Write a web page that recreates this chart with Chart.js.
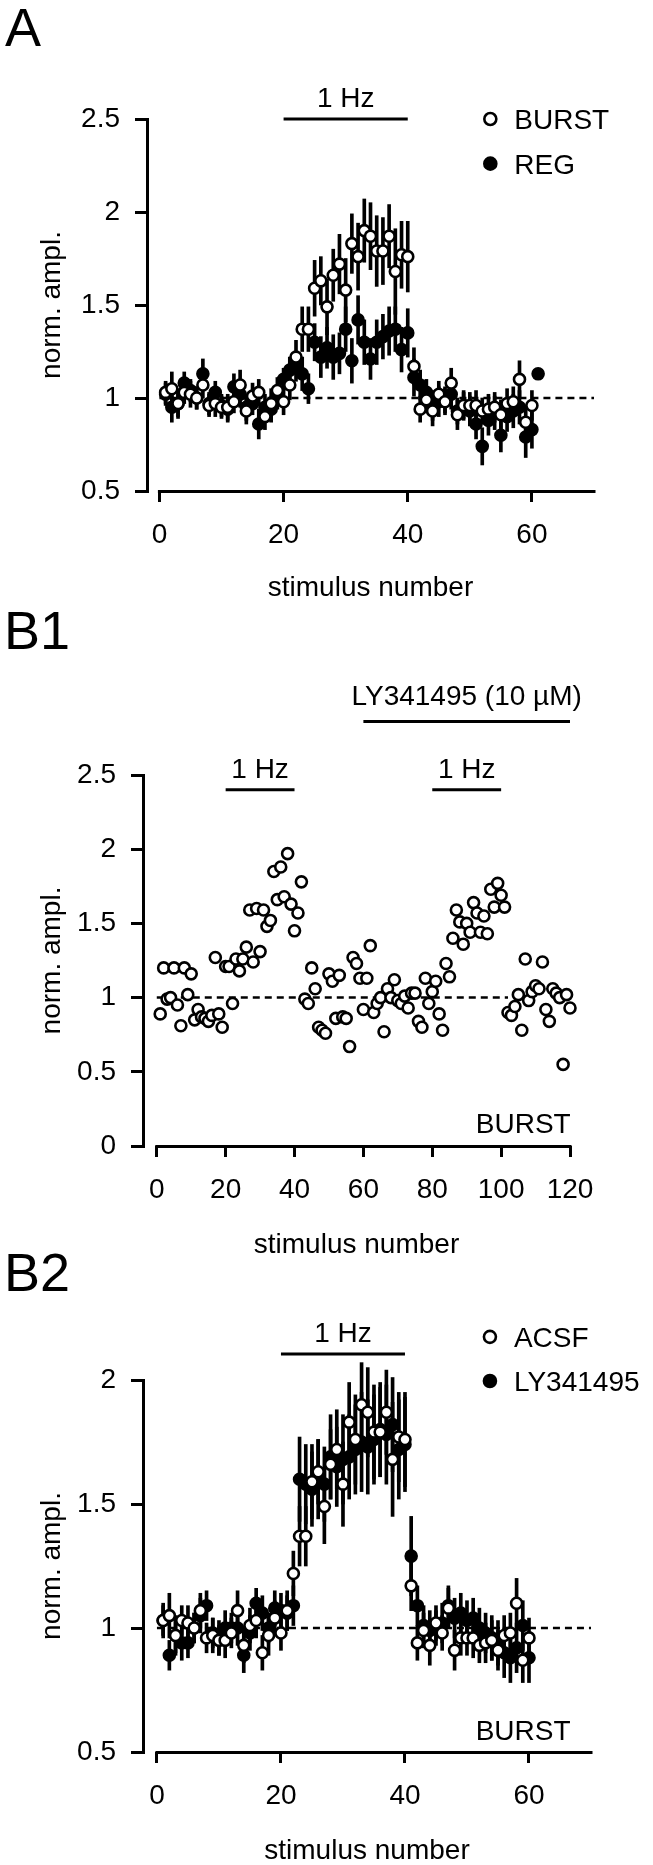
<!DOCTYPE html>
<html>
<head>
<meta charset="utf-8">
<title>norm. ampl.</title>
<script src="https://cdn.jsdelivr.net/npm/chart.js@4.4.1/dist/chart.umd.min.js"></script>
<style>
html, body { margin: 0; padding: 0; background: #fff; }
body { position: relative; width: 653px; height: 1865px; overflow: hidden; font-family: "Liberation Sans", Arial, sans-serif; }
canvas { position: absolute; left: 0; }
.tag { position: absolute; font-size: 54px; line-height: 1; color: #000; }
</style>
</head>
<body>
<div class="tag" style="left:5px; top:0px">A</div>
<div class="tag" style="left:4px; top:603px">B1</div>
<div class="tag" style="left:4px; top:1245px">B2</div>
<canvas id="cA" width="653" height="610" style="top:0px"></canvas>
<canvas id="cB1" width="653" height="665" style="top:600px"></canvas>
<canvas id="cB2" width="653" height="610" style="top:1260px"></canvas>
<script>
const FONT = '"Liberation Sans", Arial, sans-serif';
Chart.defaults.font.family = FONT;
Chart.defaults.font.size = 28;
Chart.defaults.color = '#000';

// ---- panel A : BURST vs REG (mean +- sem)
const stimA = [1,2,3,4,5,6,7,8,9,10,11,12,13,14,15,16,17,18,19,20,
  21,22,23,24,25,26,27,28,29,30,31,32,33,34,35,36,37,38,39,40,
  41,42,43,44,45,46,47,48,49,50,51,52,53,54,55,56,57,58,59,60];
const burst = [1.03,1.05,0.97,1.03,1.02,1.00,1.07,0.96,0.97,0.95,0.95,0.98,1.07,0.93,1.01,1.03,0.90,0.97,1.04,0.98,
  1.07,1.22,1.37,1.37,1.59,1.63,1.49,1.66,1.72,1.58,1.83,1.76,1.90,1.87,1.79,1.79,1.87,1.68,1.77,1.76,
  1.17,0.94,0.99,0.93,1.02,0.98,1.08,0.91,0.96,0.96,0.96,0.93,0.94,0.95,0.91,0.97,0.98,1.10,0.87,0.96];
const burstSem = [0.06,0.09,0.08,0.06,0.07,0.06,0.07,0.06,0.07,0.06,0.07,0.06,0.08,0.07,0.07,0.07,0.07,0.08,0.07,0.07,
  0.08,0.09,0.12,0.12,0.15,0.13,0.15,0.14,0.16,0.17,0.16,0.18,0.17,0.18,0.19,0.18,0.17,0.23,0.18,0.19,
  0.10,0.07,0.07,0.08,0.07,0.07,0.08,0.08,0.07,0.07,0.08,0.07,0.08,0.08,0.08,0.08,0.08,0.10,0.09,0.08];
const stimReg = [1,2,3,4,5,6,7,8,9,10,11,12,13,14,15,16,17,18,19,20,
  21,22,23,24,25,26,27,28,29,30,31,32,33,34,35,36,37,38,39,40,
  41,42,43,44,45,46,47,48,49,50,51,52,53,54,55,56,57,58,59,60,61];
const reg = [1.02,0.95,0.97,1.08,1.04,1.00,1.13,0.97,1.03,0.96,0.94,1.06,1.02,0.95,0.97,0.86,0.95,0.94,1.00,1.10,
  1.15,1.17,1.13,1.05,1.30,1.22,1.27,1.22,1.24,1.37,1.20,1.42,1.30,1.21,1.30,1.33,1.36,1.37,1.26,1.35,
  1.11,1.07,1.03,0.96,0.98,0.99,1.02,0.93,0.96,0.93,0.86,0.74,0.88,0.92,0.80,0.90,0.93,0.95,0.79,0.83,1.13];
const regSem = [0.06,0.08,0.07,0.06,0.06,0.06,0.08,0.06,0.06,0.06,0.07,0.07,0.07,0.07,0.06,0.08,0.07,0.07,0.06,0.06,
  0.07,0.08,0.09,0.08,0.10,0.11,0.11,0.12,0.11,0.12,0.12,0.13,0.12,0.11,0.12,0.12,0.13,0.12,0.12,0.13,
  0.10,0.08,0.07,0.08,0.08,0.07,0.08,0.07,0.08,0.08,0.08,0.10,0.08,0.09,0.09,0.08,0.09,0.09,0.11,0.10,0];
const xTicksA = [0, 20, 40, 60];
const yTicksA = [0.5, 1, 1.5, 2, 2.5];

// ---- panel B1 : single BURST cell, LY341495 from stimulus 60
const stimB1 = [1,2,3,4,5,6,7,8,9,10,11,12,13,14,15,16,17,18,19,20,
  21,22,23,24,25,26,27,28,29,30,31,32,33,34,35,36,37,38,39,40,
  41,42,43,44,45,46,47,48,49,50,51,52,53,54,55,56,57,58,59,60,
  61,62,63,64,65,66,67,68,69,70,71,72,73,74,75,76,77,78,79,80,
  81,82,83,84,85,86,87,88,89,90,91,92,93,94,95,96,97,98,99,100,
  101,102,103,104,105,106,107,108,109,110,111,112,113,114,115,116,117,118,119,120];
const cellB1 = [0.89,1.20,0.99,1.00,1.20,0.95,0.81,1.20,1.02,1.16, 0.85,0.92,0.87,0.86,0.84,0.88,1.27,0.89,0.80,1.21,
  1.21,0.96,1.26,1.18,1.26,1.34,1.59,1.24,1.60,1.31, 1.59,1.48,1.52,1.85,1.66,1.88,1.68,1.97,1.63,1.45,
  1.57,1.78,0.99,0.96,1.20,1.06,0.80,0.78,0.76,1.16, 1.11,0.86,1.15,0.87,0.86,0.67,1.27,1.23,1.13,0.92,
  1.13,1.35,0.90,0.96,1.00,0.77,1.06,1.00,1.12,0.98, 0.96,1.01,0.93,1.03,1.03,0.84,0.80,1.13,0.96,1.04,
  1.11,0.89,0.78,1.23,1.14,1.40,1.59,1.51,1.36,1.50, 1.44,1.64,1.57,1.44,1.55,1.43,1.73,1.61,1.77,1.69,
  1.61,0.90,0.88,0.94,1.02,0.78,1.26,0.98,1.04,1.08, 1.06,1.24,0.92,0.84,1.06,1.03,1.00,0.55,1.02,0.93];
const xTicksB1 = [0, 20, 40, 60, 80, 100, 120];
const yTicksB1 = [0, 0.5, 1, 1.5, 2, 2.5];

// ---- panel B2 : BURST, ACSF vs LY341495
const stimB2 = stimA;
const acsf = burst;
const acsfSem = burstSem;
const ly = [1.03,0.89,0.97,0.94,0.94,1.00,1.05,1.09,0.98,0.96,1.00,1.00,1.00,0.89,0.98,1.10,1.06,1.00,1.08,1.07,
  1.06,1.09,1.60,1.58,1.56,1.60,1.58,1.69,1.65,1.68,1.69,1.72,1.75,1.73,1.76,1.80,1.78,1.82,1.72,1.74,
  1.29,1.09,1.01,0.99,1.00,1.02,1.09,1.04,1.06,1.03,1.04,1.00,0.98,0.96,0.94,0.90,0.88,0.92,1.01,0.88];
const lySem = [0.07,0.06,0.07,0.07,0.06,0.06,0.07,0.06,0.06,0.07,0.07,0.06,0.07,0.07,0.07,0.06,0.07,0.06,0.07,0.07,
  0.07,0.08,0.17,0.16,0.15,0.16,0.15,0.17,0.16,0.18,0.17,0.18,0.20,0.19,0.18,0.19,0.20,0.19,0.20,0.19,
  0.16,0.08,0.08,0.08,0.07,0.08,0.08,0.08,0.08,0.08,0.08,0.08,0.08,0.09,0.09,0.10,0.10,0.10,0.10,0.10];
const xTicksB2 = [0, 20, 40, 60];
const yTicksB2 = [0.5, 1, 1.5, 2];

function pts(xs, ys) { return xs.map((x, i) => ({ x: x, y: ys[i] })); }
function spans(xs, ys, es) { return xs.map((x, i) => ({ x: x, y: [ys[i] - es[i], ys[i] + es[i]] })); }

function markers(xs, ys, fill, order) {
  return { type: 'scatter', data: pts(xs, ys), pointRadius: 5.5, pointHoverRadius: 5.5, pointBorderWidth: 2.6,
    pointBackgroundColor: fill, pointBorderColor: '#000', order: order, clip: false };
}
function errorBars(xs, ys, es, order) {
  return { type: 'bar', data: spans(xs, ys, es), backgroundColor: '#000', borderWidth: 0,
    barThickness: 3, grouped: false, order: order, clip: false };
}
function refLine(from, to, order) {
  return { type: 'line', data: [{ x: from, y: 1 }, { x: to, y: 1 }], borderColor: '#000', borderWidth: 2.5,
    borderDash: [7, 5], pointRadius: 0, order: order, clip: false };
}

// axis line, stimulation bars, legend and the BURST tag
function decor(d) {
  return {
    id: 'decor',
    afterDraw(chart) {
      const ctx = chart.ctx, area = chart.chartArea;
      const sx = chart.scales.x, sy = chart.scales.y;
      ctx.save();
      ctx.strokeStyle = '#000';
      ctx.fillStyle = '#000';
      ctx.lineWidth = 3;
      ctx.font = '28px ' + FONT;
      const yb = Math.round(area.bottom - 1.5) + 1.5;
      ctx.beginPath();
      ctx.moveTo(sx.getPixelForValue(d.axis[0]) - 1.5, yb);
      ctx.lineTo(sx.getPixelForValue(d.axis[1]) + 1.5, yb);
      ctx.stroke();

      ctx.textAlign = 'center';
      ctx.textBaseline = 'alphabetic';
      d.bars.forEach(b => {
        const a = sx.getPixelForValue(b.from), z = sx.getPixelForValue(b.to), yy = sy.getPixelForValue(b.at);
        ctx.beginPath(); ctx.moveTo(a, yy); ctx.lineTo(z, yy); ctx.stroke();
        ctx.fillText(b.text, (a + z) / 2, yy - b.gap);
      });

      ctx.textAlign = 'left';
      (d.legend || []).forEach(l => {
        const cx = sx.getPixelForValue(l.x), cy = sy.getPixelForValue(l.y);
        ctx.beginPath(); ctx.arc(cx, cy, 6, 0, Math.PI * 2);
        ctx.fillStyle = l.fill; ctx.fill();
        ctx.lineWidth = 2.6; ctx.stroke();
        ctx.fillStyle = '#000';
        ctx.fillText(l.text, cx + 24, cy + 10);
      });

      if (d.tag) {
        ctx.textAlign = 'right';
        ctx.fillText(d.tag.text, sx.getPixelForValue(d.tag.x), sy.getPixelForValue(d.tag.y) + 10);
      }
      ctx.restore();
    }
  };
}

function panel(id, o) {
  return new Chart(document.getElementById(id), {
    type: 'scatter',
    data: { datasets: o.datasets },
    options: {
      responsive: false,
      animation: false,
      devicePixelRatio: 1,
      events: [],
      layout: { padding: o.pad },
      plugins: { legend: { display: false }, tooltip: { enabled: false } },
      scales: {
        x: {
          type: 'linear', bounds: 'data', min: o.xMin, max: o.xMax, offset: false,
          afterBuildTicks: s => { s.ticks = o.xTicks.map(v => ({ value: v })); },
          afterFit: s => { s.height = o.xH; },
          border: { display: false },
          grid: { offset: false, drawOnChartArea: false, tickLength: 11, lineWidth: 3, color: '#000' },
          ticks: { padding: 16, maxRotation: 0, autoSkip: false, color: '#000', callback: v => String(v) },
          title: { display: true, text: 'stimulus number', padding: 0, color: '#000' }
        },
        y: {
          type: 'linear', bounds: 'data', min: o.yMin, max: o.yMax, offset: false,
          afterBuildTicks: s => { s.ticks = o.yTicks.map(v => ({ value: v })); },
          afterFit: s => { s.width = o.yW; },
          border: { display: true, width: 3, color: '#000' },
          grid: { offset: false, drawOnChartArea: false, tickLength: 12, lineWidth: 3, color: '#000' },
          ticks: { padding: 15, color: '#000', callback: v => String(v) },
          title: { display: true, text: 'norm. ampl.', padding: { top: 5, bottom: 0 }, color: '#000' }
        }
      }
    },
    plugins: [decor(o.decor)]
  });
}

panel('cA', {
  pad: { left: 30, right: 59, top: 119, bottom: 5 }, yW: 117, xH: 114,
  xMin: -2, xMax: 70, yMin: 0.5, yMax: 2.5, xTicks: xTicksA, yTicks: yTicksA,
  datasets: [
    markers(stimA, burst, '#fff', 1),
    errorBars(stimA, burst, burstSem, 2),
    markers(stimReg, reg, '#000', 3),
    errorBars(stimReg, reg, regSem, 4),
    refLine(0, 70, 5)
  ],
  decor: {
    axis: [0, 70],
    bars: [{ from: 20, to: 40, at: 2.5, text: '1 Hz', gap: 12 }],
    legend: [{ x: 53.3, y: 2.5, fill: '#fff', text: 'BURST' }, { x: 53.3, y: 2.26, fill: '#000', text: 'REG' }]
  }
});

panel('cB1', {
  pad: { left: 30, right: 83, top: 175, bottom: 3 }, yW: 113, xH: 116,
  xMin: -4, xMax: 120, yMin: 0, yMax: 2.5, xTicks: xTicksB1, yTicks: yTicksB1,
  datasets: [
    markers(stimB1, cellB1, '#fff', 1),
    refLine(0, 102, 2)
  ],
  decor: {
    axis: [0, 120],
    bars: [
      { from: 20, to: 40, at: 2.40, text: '1 Hz', gap: 12 },
      { from: 80, to: 100, at: 2.40, text: '1 Hz', gap: 12 },
      { from: 60, to: 120, at: 2.86, text: 'LY341495 (10 µM)', gap: 17 }
    ],
    tag: { text: 'BURST', x: 120.2, y: 0.155 }
  }
});

panel('cB2', {
  pad: { left: 30, right: 62, top: 120, bottom: 2 }, yW: 113, xH: 116,
  xMin: -2.25, xMax: 70, yMin: 0.5, yMax: 2, xTicks: xTicksB2, yTicks: yTicksB2,
  datasets: [
    markers(stimB2, acsf, '#fff', 1),
    errorBars(stimB2, acsf, acsfSem, 2),
    markers(stimB2, ly, '#000', 3),
    errorBars(stimB2, ly, lySem, 4),
    refLine(0, 70, 5)
  ],
  decor: {
    axis: [0, 70],
    bars: [{ from: 20, to: 40, at: 2.105, text: '1 Hz', gap: 12 }],
    legend: [{ x: 53.7, y: 2.174, fill: '#fff', text: 'ACSF' }, { x: 53.7, y: 1.996, fill: '#000', text: 'LY341495' }],
    tag: { text: 'BURST', x: 66.7, y: 0.59 }
  }
});
</script>
</body>
</html>
